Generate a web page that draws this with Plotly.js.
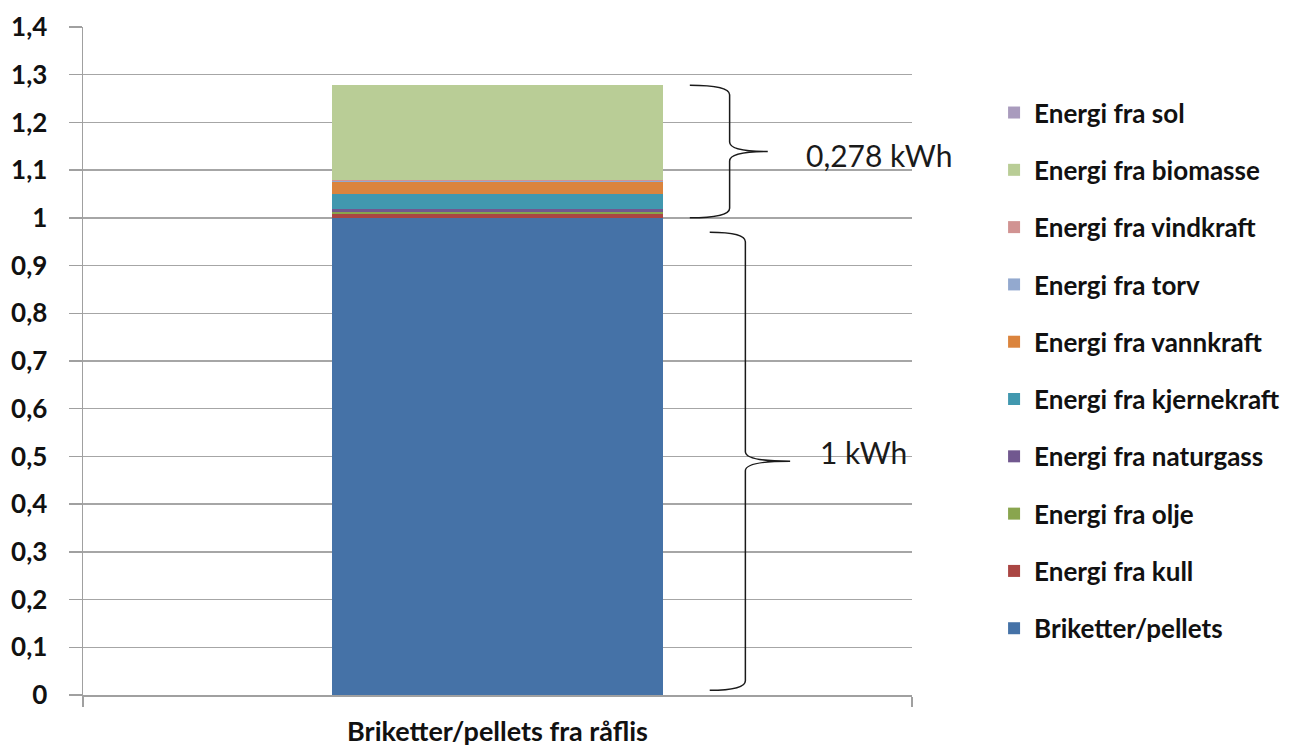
<!DOCTYPE html>
<html>
<head>
<meta charset="utf-8">
<script src="https://cdn.plot.ly/plotly-3.0.1.min.js"></script>
<style>
  html, body { margin: 0; padding: 0; background: #ffffff; }
  #chart { width: 1307px; height: 751px; }
</style>
</head>
<body>
<div id="chart"></div>
<script>
// Energy embedded in 1 kWh of briquettes/pellets made from raw wood chips
const categories = ['Briketter/pellets fra råflis'];

const seriesNames = [
  'Briketter/pellets',
  'Energi fra kull',
  'Energi fra olje',
  'Energi fra naturgass',
  'Energi fra kjernekraft',
  'Energi fra vannkraft',
  'Energi fra torv',
  'Energi fra vindkraft',
  'Energi fra biomasse',
  'Energi fra sol'
];

const seriesValues = [
  [1.000],
  [0.008],
  [0.004],
  [0.007],
  [0.030],
  [0.027],
  [0.001],
  [0.003],
  [0.198],
  [0.000]
];

const seriesColors = [
  '#4572a7', '#aa4643', '#89a54e', '#71588f', '#4198af',
  '#db843d', '#93a9cf', '#d19392', '#b9cd96', '#a99bbd'
];

const tickValues = [0, 0.1, 0.2, 0.3, 0.4, 0.5, 0.6, 0.7, 0.8, 0.9, 1, 1.1, 1.2, 1.3, 1.4];
const tickLabels = ['0', '0,1', '0,2', '0,3', '0,4', '0,5', '0,6', '0,7', '0,8', '0,9', '1', '1,1', '1,2', '1,3', '1,4'];

const FONT = 'Lato, "Open Sans", sans-serif';

// stacked from the bottom; legend lists the top segment first
const traces = seriesNames.map((name, i) => ({
  type: 'bar',
  name: name,
  x: categories,
  y: seriesValues[i],
  width: 0.4,
  legendgroup: 'g' + i,
  legendrank: 1000 - i,
  marker: { color: seriesColors[i], line: { width: 0 } },
  hoverinfo: 'name+y'
}));

// totals used for the brace annotations
const base = seriesValues[0][0];
const total = seriesValues.reduce((s, v) => s + v[0], 0);
const extra = total - base;

// curly brace path: x in paper units, y in data units
function brace(x0, xm, xt, y0, y1, d) {
  const ym = (y0 + y1) / 2;
  return [
    'M', x0, y1,
    'Q', xm, y1, xm, y1 - d,
    'L', xm, ym + d,
    'Q', xm, ym, xt, ym,
    'Q', xm, ym, xm, ym - d,
    'L', xm, y0 + d,
    'Q', xm, y0, x0, y0
  ].join(' ');
}

const shapes = [
  {
    type: 'path', xref: 'paper', yref: 'y',
    path: brace(0.732, 0.780, 0.826, base, total, 0.02),
    line: { color: '#1a1a1a', width: 1.5 }
  },
  {
    type: 'path', xref: 'paper', yref: 'y',
    path: brace(0.756, 0.799, 0.853, 0.01, base - 0.03, 0.02),
    line: { color: '#1a1a1a', width: 1.5 }
  }
];

const annotations = [
  {
    xref: 'paper', yref: 'y', x: 0.870, y: (base + total) / 2 - 0.008,
    xanchor: 'left', yanchor: 'middle', showarrow: false,
    text: extra.toFixed(3).replace('.', ',') + ' kWh',
    font: { family: FONT, size: 30, color: '#1a1a1a' }
  },
  {
    xref: 'paper', yref: 'y', x: 0.887, y: (0.01 + base - 0.03) / 2 + 0.02,
    xanchor: 'left', yanchor: 'middle', showarrow: false,
    text: String(base).replace('.', ',') + ' kWh',
    font: { family: FONT, size: 30, color: '#1a1a1a' }
  }
];

const layout = {
  width: 1307,
  height: 751,
  margin: { l: 83, r: 395, t: 27, b: 56 },
  paper_bgcolor: '#ffffff',
  plot_bgcolor: '#ffffff',
  barmode: 'stack',
  separators: ', ',
  font: { family: FONT, color: '#1a1a1a' },
  showlegend: true,
  legend: {
    x: 1.099, xanchor: 'left',
    y: 0.907, yanchor: 'top',
    traceorder: 'grouped',
    tracegroupgap: 20.5,
    font: { family: FONT, size: 26, color: '#111111', weight: 'bold' },
    itemclick: false, itemdoubleclick: false
  },
  xaxis: {
    type: 'category',
    range: [-0.5, 0.5],
    showline: true, linecolor: '#a0a0a0', linewidth: 1.5,
    ticks: 'outside', tickson: 'boundaries', ticklen: 10, tickcolor: '#a0a0a0', tickwidth: 1.5,
    ticklabelstandoff: 12,
    tickfont: { family: FONT, size: 27, color: '#111111', weight: 'bold' },
    showgrid: false, zeroline: false, fixedrange: true
  },
  yaxis: {
    range: [0, 1.4],
    tickvals: tickValues,
    ticktext: tickLabels,
    showline: true, linecolor: '#a0a0a0', linewidth: 1.5,
    ticks: 'outside', ticklen: 13, tickcolor: '#a0a0a0', tickwidth: 1.5,
    ticklabelstandoff: 16,
    showgrid: true, gridcolor: '#a6a6a6', gridwidth: 1.5,
    zeroline: false,
    tickfont: { family: FONT, size: 26, color: '#111111', weight: 'bold' },
    fixedrange: true
  },
  shapes: shapes,
  annotations: annotations
};

Plotly.newPlot('chart', traces, layout, { displayModeBar: false, staticPlot: true });
</script>
</body>
</html>
